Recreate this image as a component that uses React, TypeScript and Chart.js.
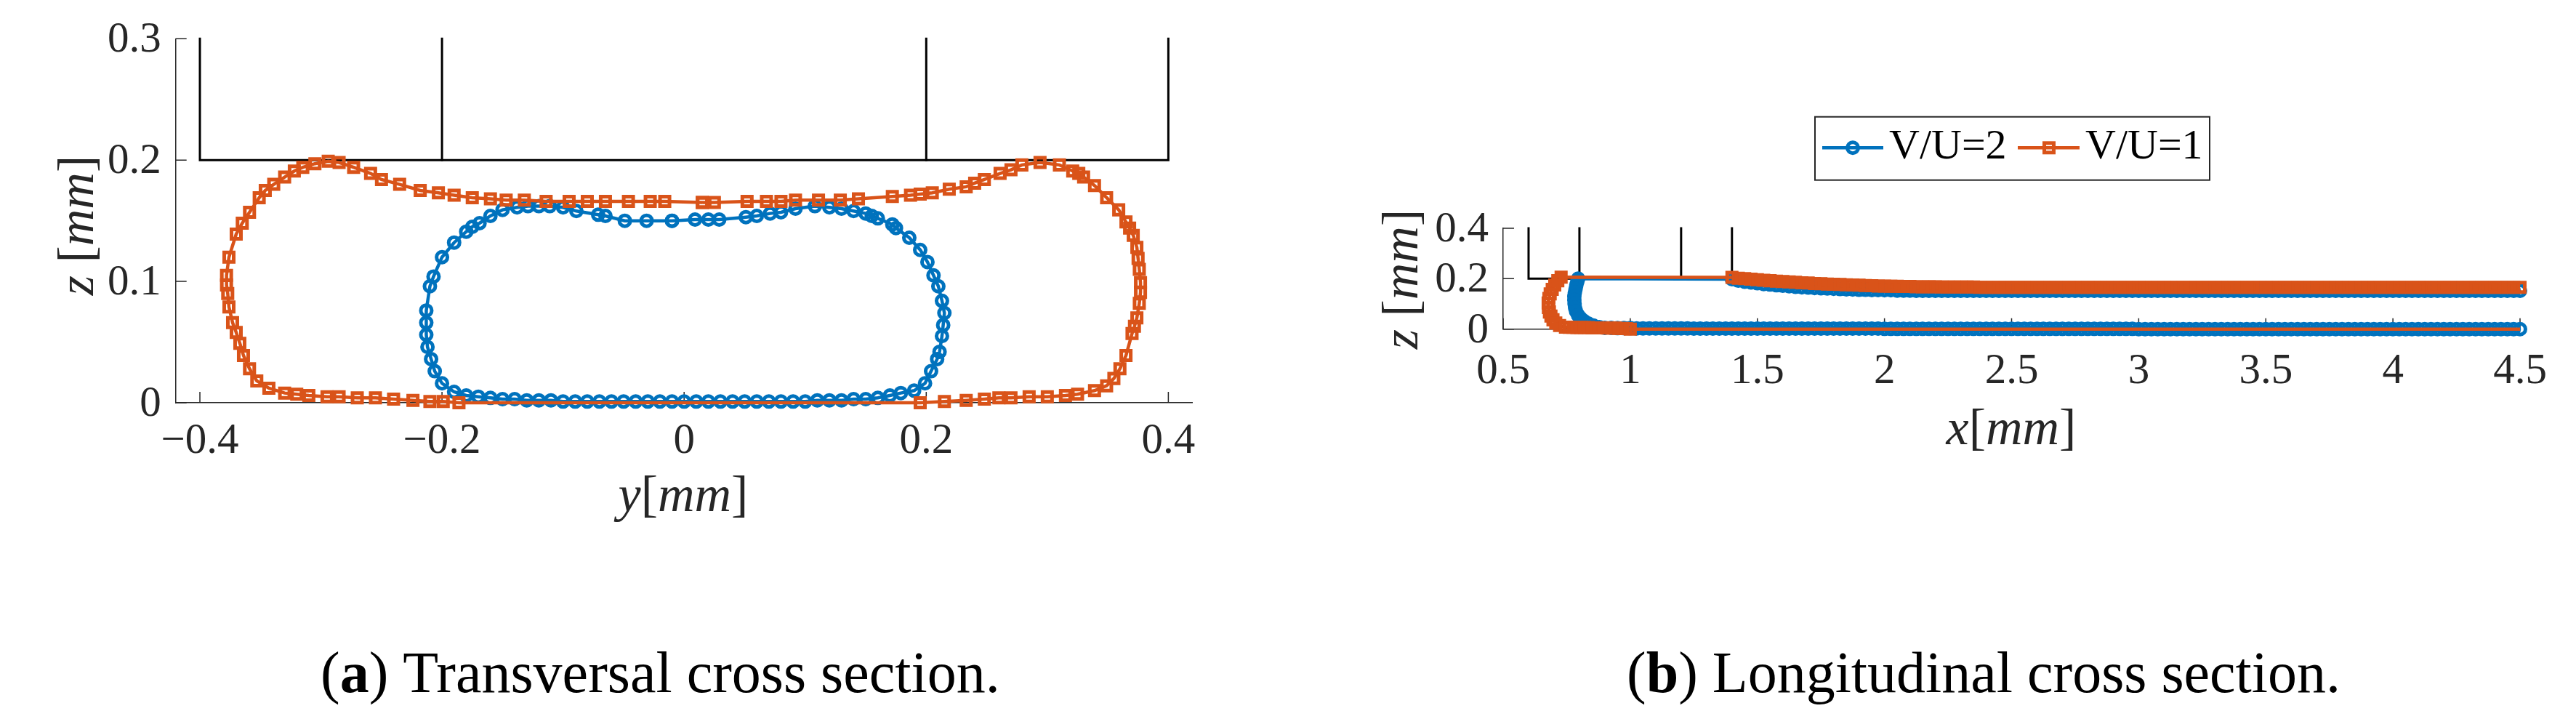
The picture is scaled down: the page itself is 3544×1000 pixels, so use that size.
import React, { useEffect, useRef } from 'react';
import { Chart, registerables } from 'chart.js';

Chart.register(...registerables);

const BLUE = '#0072BD';
const ORANGE = '#D95319';
const AXIS = '#262626';
const SERIF = '"Liberation Serif", "Times New Roman", serif';

// ---------- (a) Transversal cross section: [y, z] in mm ----------
const TR_X_TICKS = [-0.4, -0.2, 0, 0.2, 0.4];
const TR_X_LABELS = ['\u22120.4', '\u22120.2', '0', '0.2', '0.4'];
const TR_Y_TICKS = [0, 0.1, 0.2, 0.3];
const TR_Y_LABELS = ['0', '0.1', '0.2', '0.3'];

const TR_BLUE: number[][] = [
  [-0.010, 0.150], [-0.031, 0.150], [-0.049, 0.150], [-0.065, 0.154], [-0.071, 0.155],
  [-0.089, 0.158], [-0.100, 0.161], [-0.111, 0.162], [-0.120, 0.162], [-0.129, 0.162],
  [-0.138, 0.161], [-0.150, 0.159], [-0.160, 0.154], [-0.169, 0.148], [-0.175, 0.145],
  [-0.180, 0.141], [-0.190, 0.132], [-0.200, 0.120], [-0.207, 0.104], [-0.210, 0.096],
  [-0.213, 0.076], [-0.213, 0.066], [-0.213, 0.056], [-0.212, 0.046], [-0.209, 0.036],
  [-0.206, 0.026], [-0.200, 0.016], [-0.190, 0.009], [-0.180, 0.006],
  [-0.170, 0.005], [-0.160, 0.004], [-0.150, 0.003], [-0.140, 0.003], [-0.130, 0.002],
  [-0.120, 0.002], [-0.110, 0.002], [-0.100, 0.001], [-0.090, 0.001], [-0.080, 0.001],
  [-0.070, 0.001], [-0.060, 0.001], [-0.050, 0.001], [-0.040, 0.001], [-0.030, 0.001],
  [-0.020, 0.001], [-0.010, 0.001], [0.000, 0.001], [0.010, 0.001], [0.020, 0.001],
  [0.030, 0.001], [0.040, 0.001], [0.050, 0.001], [0.060, 0.001], [0.070, 0.001],
  [0.080, 0.001], [0.090, 0.001], [0.100, 0.001], [0.110, 0.002], [0.120, 0.002],
  [0.130, 0.002], [0.140, 0.003], [0.150, 0.003], [0.160, 0.004], [0.170, 0.006],
  [0.179, 0.008], [0.190, 0.010], [0.199, 0.016], [0.204, 0.026], [0.209, 0.036],
  [0.211, 0.042], [0.213, 0.055], [0.214, 0.064], [0.215, 0.074], [0.213, 0.084],
  [0.210, 0.096], [0.206, 0.105], [0.201, 0.116], [0.195, 0.126], [0.186, 0.136],
  [0.175, 0.144], [0.172, 0.147], [0.160, 0.152], [0.155, 0.154], [0.150, 0.156],
  [0.140, 0.158], [0.130, 0.160], [0.120, 0.161], [0.108, 0.162], [0.092, 0.160],
  [0.080, 0.157], [0.071, 0.156], [0.060, 0.154], [0.051, 0.153], [0.029, 0.151],
  [0.020, 0.151], [0.009, 0.151], [-0.010, 0.150],
];

const TR_ORANGE: number[][] = [
  [0.015, 0.165], [-0.016, 0.166], [-0.028, 0.166], [-0.046, 0.166], [-0.065, 0.166],
  [-0.080, 0.166], [-0.095, 0.166], [-0.114, 0.166], [-0.132, 0.167], [-0.147, 0.167],
  [-0.160, 0.168], [-0.175, 0.169], [-0.190, 0.171], [-0.203, 0.173], [-0.218, 0.175],
  [-0.235, 0.180], [-0.250, 0.184], [-0.259, 0.189], [-0.273, 0.194], [-0.285, 0.198],
  [-0.294, 0.199], [-0.305, 0.197], [-0.315, 0.194], [-0.322, 0.191], [-0.330, 0.186],
  [-0.339, 0.180], [-0.346, 0.175], [-0.351, 0.169], [-0.359, 0.157], [-0.365, 0.148],
  [-0.370, 0.139], [-0.376, 0.120], [-0.378, 0.105], [-0.378, 0.097], [-0.377, 0.090],
  [-0.376, 0.079], [-0.373, 0.066], [-0.370, 0.058], [-0.367, 0.049], [-0.364, 0.039],
  [-0.359, 0.028], [-0.353, 0.018], [-0.343, 0.012], [-0.330, 0.008], [-0.320, 0.007],
  [-0.310, 0.006], [-0.295, 0.005], [-0.285, 0.005], [-0.270, 0.004], [-0.255, 0.004],
  [-0.240, 0.003], [-0.224, 0.002], [-0.210, 0.001], [-0.199, 0.001], [-0.186, 0.000],
  [0.195, 0.000], [0.215, 0.001], [0.233, 0.002], [0.248, 0.003], [0.260, 0.004],
  [0.270, 0.004], [0.285, 0.005], [0.300, 0.005], [0.315, 0.006], [0.325, 0.007],
  [0.339, 0.010], [0.349, 0.014], [0.355, 0.020], [0.360, 0.028], [0.365, 0.039],
  [0.370, 0.057], [0.372, 0.063], [0.374, 0.070], [0.376, 0.082], [0.377, 0.091],
  [0.377, 0.099], [0.376, 0.110], [0.375, 0.119], [0.374, 0.128], [0.371, 0.138],
  [0.368, 0.144], [0.365, 0.149], [0.359, 0.159], [0.349, 0.169], [0.339, 0.179],
  [0.330, 0.186], [0.326, 0.189], [0.321, 0.191], [0.310, 0.196], [0.294, 0.198],
  [0.279, 0.196], [0.270, 0.192], [0.261, 0.189], [0.248, 0.184], [0.240, 0.181],
  [0.233, 0.178], [0.219, 0.176], [0.205, 0.173], [0.195, 0.172], [0.187, 0.171],
  [0.172, 0.170], [0.144, 0.168], [0.129, 0.167], [0.111, 0.167], [0.092, 0.167],
  [0.080, 0.166], [0.068, 0.166], [0.052, 0.166], [0.025, 0.165], [0.015, 0.165],
];

const TR_STRUCTURE: number[][][] = [
  [[-0.4, 0.3], [-0.4, 0.2], [0.4, 0.2], [0.4, 0.3]],
  [[-0.2, 0.3], [-0.2, 0.2]],
  [[0.2, 0.3], [0.2, 0.2]],
];

// ---------- (b) Longitudinal cross section: x, z in mm ----------
const LG_X_TICKS = [0.5, 1, 1.5, 2, 2.5, 3, 3.5, 4, 4.5];
const LG_X_LABELS = ['0.5', '1', '1.5', '2', '2.5', '3', '3.5', '4', '4.5'];
const LG_Y_TICKS = [0, 0.2, 0.4];
const LG_Y_LABELS = ['0', '0.2', '0.4'];

const LG_TOP_X = [
  1.400, 1.425, 1.450, 1.475, 1.500, 1.525, 1.550, 1.575,
  1.600, 1.625, 1.650, 1.675, 1.700, 1.725, 1.750, 1.775,
  1.800, 1.825, 1.850, 1.875, 1.900, 1.925, 1.950, 1.975,
  2.000, 2.025, 2.050, 2.075, 2.100, 2.125, 2.150, 2.175,
  2.200, 2.225, 2.250, 2.275, 2.300, 2.325, 2.350, 2.375,
  2.400, 2.425, 2.450, 2.475, 2.500, 2.525, 2.550, 2.575,
  2.600, 2.625, 2.650, 2.675, 2.700, 2.725, 2.750, 2.775,
  2.800, 2.825, 2.850, 2.875, 2.900, 2.925, 2.950, 2.975,
  3.000, 3.025, 3.050, 3.075, 3.100, 3.125, 3.150, 3.175,
  3.200, 3.225, 3.250, 3.275, 3.300, 3.325, 3.350, 3.375,
  3.400, 3.425, 3.450, 3.475, 3.500, 3.525, 3.550, 3.575,
  3.600, 3.625, 3.650, 3.675, 3.700, 3.725, 3.750, 3.775,
  3.800, 3.825, 3.850, 3.875, 3.900, 3.925, 3.950, 3.975,
  4.000, 4.025, 4.050, 4.075, 4.100, 4.125, 4.150, 4.175,
  4.200, 4.225, 4.250, 4.275, 4.300, 4.325, 4.350, 4.375,
  4.400, 4.425, 4.450, 4.475, 4.500,
];
const LG_ORANGE_TOP_Z = [
  0.205, 0.202, 0.200, 0.198, 0.196, 0.194, 0.192, 0.190,
  0.189, 0.187, 0.186, 0.184, 0.183, 0.181, 0.180, 0.179,
  0.178, 0.177, 0.176, 0.175, 0.174, 0.173, 0.172, 0.171,
  0.171, 0.170, 0.170, 0.169, 0.169, 0.168, 0.168, 0.168,
  0.168, 0.167, 0.167, 0.167, 0.167, 0.167, 0.167, 0.166,
  0.166, 0.166, 0.166, 0.166, 0.166, 0.166, 0.166, 0.166,
  0.166, 0.166, 0.166, 0.166, 0.166, 0.166, 0.166, 0.166,
  0.166, 0.166, 0.166, 0.166, 0.166, 0.166, 0.166, 0.166,
  0.166, 0.166, 0.166, 0.166, 0.166, 0.166, 0.166, 0.166,
  0.166, 0.166, 0.166, 0.166, 0.166, 0.166, 0.166, 0.166,
  0.166, 0.166, 0.166, 0.166, 0.166, 0.166, 0.166, 0.166,
  0.166, 0.166, 0.166, 0.166, 0.166, 0.166, 0.166, 0.166,
  0.166, 0.166, 0.166, 0.166, 0.166, 0.166, 0.166, 0.166,
  0.166, 0.166, 0.166, 0.166, 0.166, 0.166, 0.166, 0.166,
  0.166, 0.166, 0.166, 0.166, 0.166, 0.166, 0.166, 0.166,
  0.166, 0.166, 0.166, 0.166, 0.166,
];
const LG_BLUE_TOP_Z = [
  0.198, 0.192, 0.188, 0.185, 0.182, 0.179, 0.177, 0.174,
  0.172, 0.170, 0.168, 0.166, 0.165, 0.163, 0.162, 0.161,
  0.160, 0.159, 0.158, 0.157, 0.156, 0.156, 0.155, 0.155,
  0.154, 0.154, 0.153, 0.153, 0.153, 0.152, 0.152, 0.152,
  0.152, 0.152, 0.152, 0.152, 0.152, 0.152, 0.152, 0.152,
  0.152, 0.152, 0.152, 0.152, 0.152, 0.152, 0.152, 0.152,
  0.152, 0.152, 0.152, 0.152, 0.152, 0.152, 0.152, 0.152,
  0.152, 0.152, 0.152, 0.152, 0.152, 0.152, 0.152, 0.152,
  0.152, 0.152, 0.152, 0.152, 0.152, 0.152, 0.152, 0.152,
  0.152, 0.152, 0.152, 0.152, 0.152, 0.152, 0.152, 0.152,
  0.152, 0.152, 0.152, 0.152, 0.152, 0.152, 0.152, 0.152,
  0.152, 0.152, 0.152, 0.152, 0.152, 0.152, 0.152, 0.152,
  0.152, 0.152, 0.152, 0.152, 0.152, 0.152, 0.152, 0.152,
  0.152, 0.152, 0.152, 0.152, 0.152, 0.152, 0.152, 0.152,
  0.152, 0.152, 0.152, 0.152, 0.152, 0.152, 0.152, 0.152,
  0.152, 0.152, 0.152, 0.152, 0.152,
];
const LG_BOTTOM_X = [
  0.900, 0.925, 0.950, 0.975, 1.000, 1.025, 1.050, 1.075,
  1.100, 1.125, 1.150, 1.175, 1.200, 1.225, 1.250, 1.275,
  1.300, 1.325, 1.350, 1.375, 1.400, 1.425, 1.450, 1.475,
  1.500, 1.525, 1.550, 1.575, 1.600, 1.625, 1.650, 1.675,
  1.700, 1.725, 1.750, 1.775, 1.800, 1.825, 1.850, 1.875,
  1.900, 1.925, 1.950, 1.975, 2.000, 2.025, 2.050, 2.075,
  2.100, 2.125, 2.150, 2.175, 2.200, 2.225, 2.250, 2.275,
  2.300, 2.325, 2.350, 2.375, 2.400, 2.425, 2.450, 2.475,
  2.500, 2.525, 2.550, 2.575, 2.600, 2.625, 2.650, 2.675,
  2.700, 2.725, 2.750, 2.775, 2.800, 2.825, 2.850, 2.875,
  2.900, 2.925, 2.950, 2.975, 3.000, 3.025, 3.050, 3.075,
  3.100, 3.125, 3.150, 3.175, 3.200, 3.225, 3.250, 3.275,
  3.300, 3.325, 3.350, 3.375, 3.400, 3.425, 3.450, 3.475,
  3.500, 3.525, 3.550, 3.575, 3.600, 3.625, 3.650, 3.675,
  3.700, 3.725, 3.750, 3.775, 3.800, 3.825, 3.850, 3.875,
  3.900, 3.925, 3.950, 3.975, 4.000, 4.025, 4.050, 4.075,
  4.100, 4.125, 4.150, 4.175, 4.200, 4.225, 4.250, 4.275,
  4.300, 4.325, 4.350, 4.375, 4.400, 4.425, 4.450, 4.475,
  4.500,
];
const LG_BLUE_BOTTOM_Z = [
  0.005, 0.005, 0.004, 0.004, 0.004, 0.003, 0.003, 0.003,
  0.003, 0.003, 0.003, 0.003, 0.003, 0.003, 0.002, 0.002,
  0.002, 0.002, 0.002, 0.002, 0.002, 0.002, 0.002, 0.002,
  0.002, 0.002, 0.002, 0.002, 0.002, 0.002, 0.002, 0.002,
  0.002, 0.002, 0.002, 0.002, 0.002, 0.002, 0.002, 0.002,
  0.002, 0.002, 0.002, 0.002, 0.001, 0.001, 0.001, 0.001,
  0.001, 0.001, 0.001, 0.001, 0.001, 0.001, 0.001, 0.001,
  0.001, 0.001, 0.001, 0.001, 0.001, 0.001, 0.001, 0.001,
  0.001, 0.001, 0.001, 0.001, 0.001, 0.001, 0.001, 0.001,
  0.001, 0.001, 0.001, 0.001, 0.001, 0.001, 0.001, 0.001,
  0.001, 0.001, 0.001, 0.001, 0.000, 0.000, 0.000, 0.000,
  0.000, 0.000, 0.000, 0.000, 0.000, 0.000, 0.000, 0.000,
  0.000, 0.000, 0.000, 0.000, 0.000, 0.000, 0.000, 0.000,
  0.000, 0.000, 0.000, 0.000, 0.000, 0.000, 0.000, 0.000,
  0.000, 0.000, 0.000, 0.000, 0.000, 0.000, 0.000, 0.000,
  0.000, 0.000, 0.000, 0.000, 0.000, 0.000, 0.000, 0.000,
  0.000, 0.000, 0.000, 0.000, 0.000, 0.000, 0.000, 0.000,
  0.000, 0.000, 0.000, 0.000, 0.000, 0.000, 0.000, 0.000,
  0.000,
];
const LG_BLUE_FRONT: number[][] = [
  [0.795, 0.200], [0.792, 0.190], [0.788, 0.175], [0.785, 0.160], [0.782, 0.145],
  [0.780, 0.130], [0.780, 0.115], [0.781, 0.100], [0.783, 0.085], [0.787, 0.070],
  [0.795, 0.055], [0.805, 0.043], [0.818, 0.032], [0.835, 0.022], [0.855, 0.014],
  [0.878, 0.008],
];
const LG_ORANGE_FRONT: number[][] = [
  [0.728, 0.206], [0.715, 0.192], [0.703, 0.175], [0.693, 0.158], [0.685, 0.140],
  [0.680, 0.122], [0.677, 0.104], [0.678, 0.086], [0.682, 0.068], [0.688, 0.052],
  [0.696, 0.037], [0.707, 0.024], [0.722, 0.014], [0.745, 0.008], [0.760, 0.007],
  [0.775, 0.007], [0.790, 0.006], [0.805, 0.006], [0.820, 0.006], [0.835, 0.006],
  [0.850, 0.005], [0.865, 0.005], [0.880, 0.005], [0.895, 0.005], [0.910, 0.004],
  [0.925, 0.004], [0.940, 0.004], [0.955, 0.003], [0.970, 0.003], [0.985, 0.002],
  [1.000, 0.000],
];
const LG_ORANGE_BOTTOM_END = [4.50, 0.000];

const LG_STRUCTURE: number[][][] = [
  [[0.6, 0.4], [0.6, 0.2], [1.4, 0.2], [1.4, 0.4]],
  [[0.8, 0.4], [0.8, 0.2]],
  [[1.2, 0.4], [1.2, 0.2]],
];

const LEGEND_LABELS = ['V/U=2', 'V/U=1'];
const CAPTIONS = [
  ['(', 'a', ') Transversal cross section.'],
  ['(', 'b', ') Longitudinal cross section.'],
];

// ---------- helpers ----------
const toPts = (arr: number[][]) => arr.map(([x, y]) => ({ x, y }));
const zip = (xs: number[], zs: number[]) => xs.map((x, i) => ({ x, y: zs[i] }));

const CIRCLE_R = 7.5;
const RECT_R = 9.2;
const LINE_W = 4.5;
const MARK_W = 5;

function blueDs(data: any[]) {
  return {
    data, showLine: true, borderColor: BLUE, borderWidth: LINE_W, tension: 0,
    pointStyle: 'circle', pointRadius: CIRCLE_R, pointBorderWidth: MARK_W,
    pointBorderColor: BLUE, pointBackgroundColor: 'rgba(0,0,0,0)', clip: false, order: 1,
  };
}
function orangeDs(data: any[], lastNoMarker = false) {
  const n = data.length;
  return {
    data, showLine: true, borderColor: ORANGE, borderWidth: LINE_W, tension: 0,
    pointStyle: 'rect',
    pointRadius: (c: any) => (lastNoMarker && c.dataIndex === n - 1 ? 0 : RECT_R),
    pointBorderWidth: MARK_W, pointBorderColor: ORANGE, pointBackgroundColor: 'rgba(0,0,0,0)',
    clip: false, order: 0,
  };
}
function structDs(seg: number[][]) {
  return {
    data: toPts(seg), showLine: true, borderColor: '#000', borderWidth: 3, tension: 0,
    pointRadius: 0, clip: false, order: 2, borderCapStyle: 'square',
  };
}

type Part = { t: string; f: string };
function drawParts(ctx: CanvasRenderingContext2D, parts: Part[], x: number, y: number, align: 'center' | 'left') {
  let total = 0;
  const ws = parts.map((p) => { ctx.font = p.f; const w = ctx.measureText(p.t).width; total += w; return w; });
  let cx = align === 'center' ? x - total / 2 : x;
  ctx.textAlign = 'left';
  ctx.textBaseline = 'alphabetic';
  parts.forEach((p, i) => { ctx.font = p.f; ctx.fillText(p.t, cx, y); cx += ws[i]; });
}

const IT = `italic 70px ${SERIF}`;
const RM = `70px ${SERIF}`;
const TICK_FONT = `59px ${SERIF}`;

function makeDecor(o: {
  xTitle: Part[]; xTitlePos: [number, number]; zTitlePos: [number, number];
  xTicks: number[]; xLabels: string[]; yTicks: number[]; yLabels: string[]; xLabelBase: number;
  caption: string[]; captionPos: [number, number]; legend?: boolean; offset: number;
}) {
  return {
    id: 'decor',
    beforeDatasetsDraw(chart: any) {
      const ctx = chart.ctx as CanvasRenderingContext2D;
      const a = chart.chartArea;
      const xs = chart.scales.x; const ys = chart.scales.y;
      ctx.save();
      ctx.strokeStyle = AXIS; ctx.lineWidth = 1.5;
      ctx.beginPath();
      o.xTicks.forEach((v) => {
        const px = xs.getPixelForValue(v);
        ctx.moveTo(px, a.bottom); ctx.lineTo(px, a.bottom - 15);
      });
      o.yTicks.forEach((v) => {
        const py = ys.getPixelForValue(v);
        ctx.moveTo(a.left, py); ctx.lineTo(a.left + 15, py);
      });
      ctx.stroke();
      ctx.fillStyle = AXIS;
      ctx.font = TICK_FONT;
      ctx.textBaseline = 'alphabetic';
      ctx.textAlign = 'center';
      o.xTicks.forEach((v, i) => {
        ctx.fillText(o.xLabels[i], xs.getPixelForValue(v), o.xLabelBase);
      });
      ctx.textAlign = 'right';
      o.yTicks.forEach((v, i) => {
        ctx.fillText(o.yLabels[i], a.left - 20, ys.getPixelForValue(v) + 18);
      });
      ctx.restore();
    },
    afterDraw(chart: any) {
      const ctx = chart.ctx as CanvasRenderingContext2D;
      ctx.save();
      ctx.fillStyle = AXIS;
      drawParts(ctx, o.xTitle, o.xTitlePos[0], o.xTitlePos[1], 'center');
      ctx.save();
      ctx.translate(o.zTitlePos[0], o.zTitlePos[1]);
      ctx.rotate(-Math.PI / 2);
      drawParts(ctx, [{ t: 'z', f: IT }, { t: ' [', f: RM }, { t: 'mm', f: IT }, { t: ']', f: RM }], 0, 0, 'center');
      ctx.restore();
      ctx.fillStyle = '#000';
      const CF = `80px ${SERIF}`;
      const CB = `bold 80px ${SERIF}`;
      drawParts(ctx, [{ t: o.caption[0], f: CF }, { t: o.caption[1], f: CB }, { t: o.caption[2], f: CF }],
        o.captionPos[0], o.captionPos[1], 'left');

      if (o.legend) {
        const ox = o.offset;
        const L = 2497 - ox, R = 3040 - ox, T = 160.7, B = 247.7;
        ctx.fillStyle = '#fff';
        ctx.fillRect(L, T, R - L, B - T);
        ctx.strokeStyle = AXIS; ctx.lineWidth = 2;
        ctx.strokeRect(L, T, R - L, B - T);
        const ly = 203.3;
        ctx.lineWidth = LINE_W;
        ctx.strokeStyle = BLUE;
        ctx.beginPath(); ctx.moveTo(2507 - ox, ly); ctx.lineTo(2591 - ox, ly); ctx.stroke();
        ctx.lineWidth = MARK_W;
        ctx.beginPath(); ctx.arc(2549 - ox, ly, CIRCLE_R, 0, Math.PI * 2); ctx.stroke();
        ctx.strokeStyle = ORANGE; ctx.lineWidth = LINE_W;
        ctx.beginPath(); ctx.moveTo(2776 - ox, ly); ctx.lineTo(2861 - ox, ly); ctx.stroke();
        const s = RECT_R * Math.SQRT1_2;
        ctx.lineWidth = MARK_W;
        ctx.strokeRect(2819 - ox - s, ly - s, 2 * s, 2 * s);
        ctx.fillStyle = '#000';
        ctx.font = `58px ${SERIF}`;
        ctx.textAlign = 'left'; ctx.textBaseline = 'alphabetic';
        ctx.fillText(LEGEND_LABELS[0], 2599 - ox, 218.3);
        ctx.fillText(LEGEND_LABELS[1], 2869 - ox, 218.3);
      }
      ctx.restore();
    },
  };
}

function scaleOpts(min: number, max: number, horizontal: boolean) {
  return {
    type: 'linear', position: horizontal ? 'bottom' : 'left', min, max,
    grid: { display: false, drawTicks: false },
    border: { display: true, color: AXIS, width: 1.5 },
    ticks: { display: false },
    afterFit: (s: any) => { if (horizontal) s.height = 100; else s.width = 100; },
  };
}

function leftConfig(): any {
  const datasets = [
    orangeDs(toPts(TR_ORANGE)),
    blueDs(toPts(TR_BLUE)),
    ...TR_STRUCTURE.map(structDs),
  ];
  return {
    type: 'scatter',
    data: { datasets },
    options: {
      responsive: false, animation: false, devicePixelRatio: 1, events: [],
      layout: { padding: { left: 141.7, top: 53.3, right: 131.3, bottom: 346 } },
      plugins: { legend: { display: false }, tooltip: { enabled: false } },
      scales: {
        x: scaleOpts(-0.42, 0.42, true),
        y: scaleOpts(0, 0.3, false),
      },
    },
    plugins: [makeDecor({
      xTitle: [{ t: 'y', f: IT }, { t: '[', f: RM }, { t: 'mm', f: IT }, { t: ']', f: RM }],
      xTitlePos: [940, 703], zTitlePos: [128, 310],
      xTicks: TR_X_TICKS, xLabels: TR_X_LABELS, yTicks: TR_Y_TICKS, yLabels: TR_Y_LABELS, xLabelBase: 623,
      caption: CAPTIONS[0], captionPos: [441, 952], offset: 0,
    })],
  };
}

function rightConfig(): any {
  const blue = [
    ...zip(LG_TOP_X, LG_BLUE_TOP_Z).reverse(),
    ...toPts(LG_BLUE_FRONT),
    ...zip(LG_BOTTOM_X, LG_BLUE_BOTTOM_Z),
  ];
  const orange = [
    ...zip(LG_TOP_X, LG_ORANGE_TOP_Z).reverse(),
    ...toPts(LG_ORANGE_FRONT),
    { x: LG_ORANGE_BOTTOM_END[0], y: LG_ORANGE_BOTTOM_END[1] },
  ];
  const datasets = [
    orangeDs(orange, true),
    blueDs(blue),
    ...LG_STRUCTURE.map(structDs),
  ];
  return {
    type: 'scatter',
    data: { datasets },
    options: {
      responsive: false, animation: false, devicePixelRatio: 1, events: [],
      layout: { padding: { left: 196, top: 314, right: 77, bottom: 447.3 } },
      plugins: { legend: { display: false }, tooltip: { enabled: false } },
      scales: {
        x: scaleOpts(0.5, 4.5, true),
        y: scaleOpts(0, 0.4, false),
      },
    },
    plugins: [makeDecor({
      xTitle: [{ t: 'x', f: IT }, { t: '[', f: RM }, { t: 'mm', f: IT }, { t: ']', f: RM }],
      xTitlePos: [995, 611], zTitlePos: [178, 384],
      xTicks: LG_X_TICKS, xLabels: LG_X_LABELS, yTicks: LG_Y_TICKS, yLabels: LG_Y_LABELS, xLabelBase: 526.5,
      caption: CAPTIONS[1], captionPos: [466, 952], legend: true, offset: 1772,
    })],
  };
}

export default function App() {
  const leftRef = useRef<HTMLCanvasElement>(null);
  const rightRef = useRef<HTMLCanvasElement>(null);
  useEffect(() => {
    const c1 = new Chart(leftRef.current as HTMLCanvasElement, leftConfig());
    const c2 = new Chart(rightRef.current as HTMLCanvasElement, rightConfig());
    return () => { c1.destroy(); c2.destroy(); };
  }, []);
  const cs: React.CSSProperties = { position: 'absolute', top: 0, width: 1772, height: 1000 };
  return (
    <div style={{ position: 'absolute', left: 0, top: 0, width: 3544, height: 1000, background: '#fff' }}>
      <canvas ref={leftRef} width={1772} height={1000} style={{ ...cs, left: 0 }} />
      <canvas ref={rightRef} width={1772} height={1000} style={{ ...cs, left: 1772 }} />
    </div>
  );
}
